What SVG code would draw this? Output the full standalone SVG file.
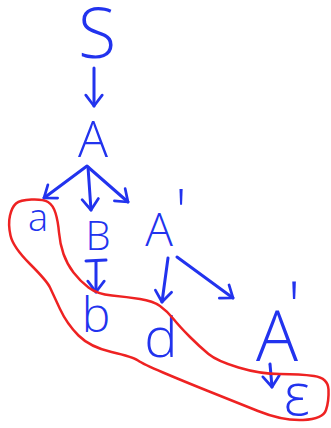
<svg xmlns="http://www.w3.org/2000/svg" width="331" height="428" viewBox="0 0 331 428">
<style>
.t{font-family:"Open Sans","Liberation Sans",sans-serif;font-weight:300;fill:#2233ee;text-anchor:middle}
.c{fill:none;stroke:#2233ee;stroke-width:3;stroke-linecap:round;stroke-linejoin:round}
.loop{fill:none;stroke:#ee2222;stroke-width:2.5;stroke-linejoin:round}
</style>
<defs>
<marker id="ah" markerUnits="userSpaceOnUse" markerWidth="16" markerHeight="20" refX="12" refY="9" orient="auto" viewBox="-2 -2 16 22">
<path d="M0,0 L12,9 L0,18" fill="none" stroke="#2233ee" stroke-width="3" stroke-linecap="round" stroke-linejoin="round"/>
</marker>
</defs>
<rect width="331" height="428" fill="#fff"/>
<g id="connectors">
<line class="c" x1="94" y1="68" x2="94" y2="106" marker-end="url(#ah)"/>
<line class="c" x1="87" y1="166" x2="44" y2="198" marker-end="url(#ah)"/>
<line class="c" x1="88" y1="167" x2="91" y2="210" marker-end="url(#ah)"/>
<line class="c" x1="88" y1="167" x2="128" y2="202" marker-end="url(#ah)"/>
<path class="c" d="M86 261 L106 260"/>
<line class="c" x1="96" y1="261" x2="96" y2="292" marker-end="url(#ah)"/>
<line class="c" x1="168" y1="258" x2="162" y2="302" marker-end="url(#ah)"/>
<line class="c" x1="177" y1="257" x2="233" y2="298" marker-end="url(#ah)"/>
<line class="c" x1="270" y1="364" x2="272" y2="387" marker-end="url(#ah)"/>
</g>
<g id="S"><text class="t" x="97" y="58" font-size="70">S</text></g>
<g id="A"><text class="t" x="93" y="157" font-size="50">A</text></g>
<g id="a"><text class="t" x="38" y="231" font-size="38">a</text></g>
<g id="B"><text class="t" x="98" y="250" font-size="40">B</text></g>
<g id="A1"><text class="t" x="159" y="246" font-size="46">A<tspan x="181" y="233" font-size="60">'</tspan></text></g>
<g id="b"><text class="t" x="96" y="332" font-size="48">b</text></g>
<g id="d"><text class="t" x="161" y="357" font-size="56">d</text></g>
<g id="A2"><text class="t" x="277" y="361" font-size="70">A<tspan x="294" y="330" font-size="68">'</tspan></text></g>
<g id="eps"><text class="t" x="297" y="415" font-size="58">ε</text></g>
<g id="loop">
<path class="loop" d="M16,203.5 Q20,200 31.5,199.5 Q43,199 48,202 Q53,205 55.5,213 Q58,221 59,232.5 Q60,244 63.5,254 Q67,264 73.5,272.5 Q80,281 88.5,287.5 Q97,294 112,295.5 Q127,297 140,299 Q153,301 160,306 Q167,311 173.5,319 Q180,327 190,337 Q200,347 208.5,354 Q217,361 238.5,367.5 Q260,374 280,374 Q300,374 314,376 Q328,378 328.5,389.5 Q329,401 326,410 Q323,419 303,420 Q283,421 258,411 Q233,401 208,391 Q183,381 163,372.5 Q143,364 138,360.5 Q133,357 111.5,352 Q90,347 78.5,335.5 Q67,324 60,309 Q53,294 50,287.5 Q47,281 30,264 Q13,247 10.5,235.5 Q8,224 10,215.5 Q12,207 16,203.5 Z"/>
</g>
</svg>
